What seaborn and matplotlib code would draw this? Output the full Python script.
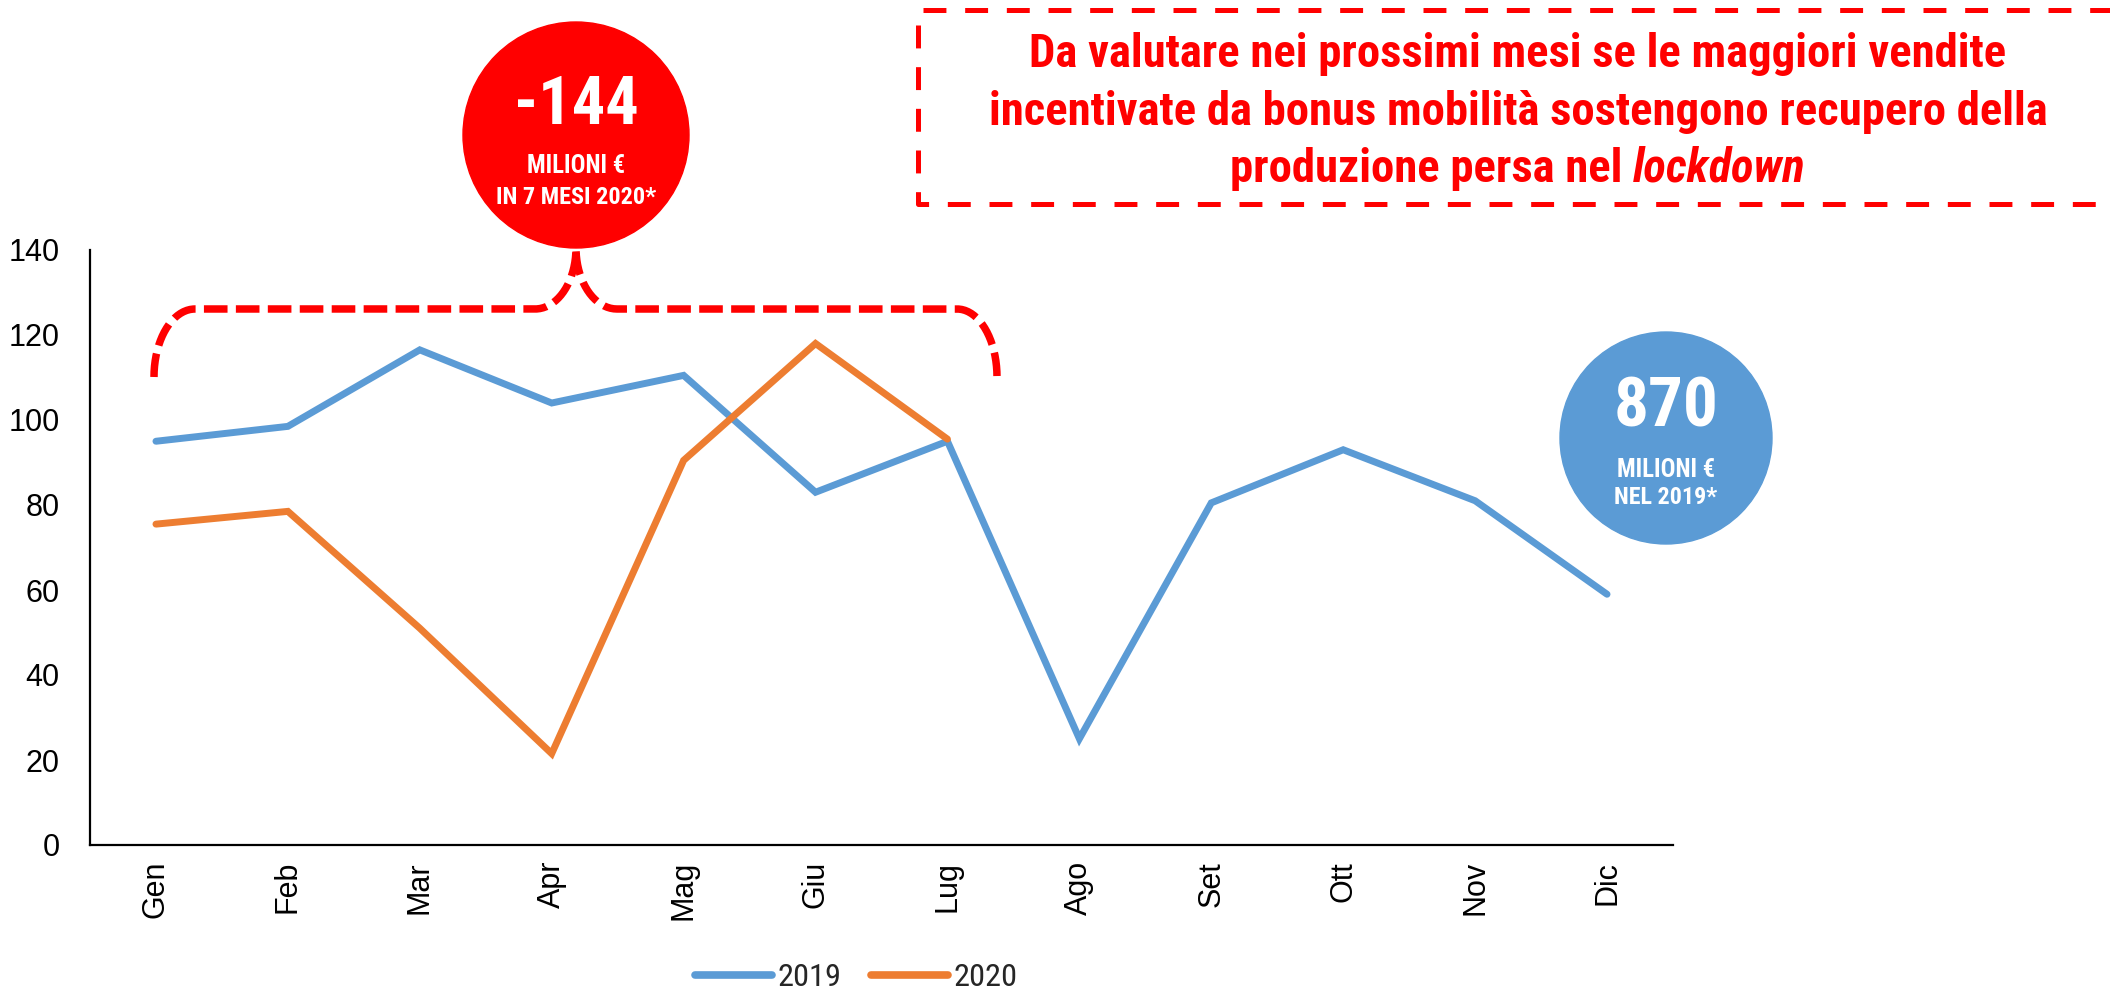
import os
import numpy as np
import pandas as pd
import matplotlib
matplotlib.use("Agg")
import matplotlib.pyplot as plt
import seaborn as sns
from matplotlib import font_manager
from matplotlib.font_manager import FontProperties
from matplotlib.patches import Circle
from matplotlib.lines import Line2D

# valori (produzione mensile)
mesi = ["Gen", "Feb", "Mar", "Apr", "Mag", "Giu", "Lug", "Ago", "Set", "Ott", "Nov", "Dic"]
valori_2019 = [95, 98.5, 116.5, 104, 110.5, 83, 95, 25, 80.5, 93, 81, 59]
valori_2020 = [75.5, 78.5, 51, 21.5, 90.5, 118, 95.5]
anni = ["2019", "2020"]
colori = ["#5B9BD5", "#ED7D31"]
tick_y = [0, 20, 40, 60, 80, 100, 120, 140]

bolla_2020 = ["-144", "MILIONI €", "IN 7 MESI 2020*"]
bolla_2019 = ["870", "MILIONI €", "NEL 2019*"]
nota = ["Da valutare nei prossimi mesi se le maggiori vendite",
        "incentivate da bonus mobilità sostengono recupero della",
        "produzione persa nel", "lockdown"]

ROSSO = "#FF0000"

# cerca un font stretto (tipo Arial Narrow) tra quelli installati
file_font = {os.path.basename(f.fname): f.fname for f in font_manager.fontManager.ttflist}
candidati = [
    ("LiberationSansNarrow-Bold.ttf", "LiberationSansNarrow-BoldItalic.ttf", "LiberationSansNarrow-Regular.ttf"),
    ("RobotoCondensed-Bold.ttf", "RobotoCondensed-BoldItalic.ttf", "RobotoCondensed-Regular.ttf"),
    ("NotoSans-CondensedBold.ttf", "NotoSans-CondensedBoldItalic.ttf", "NotoSans-Condensed.ttf"),
    ("DejaVuSansCondensed-Bold.ttf", "DejaVuSansCondensed-BoldOblique.ttf", "DejaVuSansCondensed.ttf"),
    ("OpenSans_Condensed-Bold.ttf", "OpenSans_Condensed-BoldItalic.ttf", "OpenSans_Condensed-Regular.ttf"),
]
fp_b, fp_bi, fp_r = None, None, None
for b, bi, rg in candidati:
    if b in file_font:
        fp_b = FontProperties(fname=file_font[b])
        fp_bi = FontProperties(fname=file_font[bi]) if bi in file_font else FontProperties(fname=file_font[b])
        fp_r = FontProperties(fname=file_font[rg]) if rg in file_font else FontProperties(family="Liberation Sans")
        break
if fp_b is None:
    fp_b = FontProperties(family="Liberation Sans", weight="bold")
    fp_bi = FontProperties(family="Liberation Sans", weight="bold", style="italic")
    fp_r = FontProperties(family="Liberation Sans")

sns.set_style("white")
plt.rcParams["font.family"] = ["Liberation Sans", "DejaVu Sans"]
plt.rcParams["lines.scale_dashes"] = False

df = pd.DataFrame({
    "pos": list(range(len(valori_2019))) + list(range(len(valori_2020))),
    "valore": valori_2019 + valori_2020,
    "anno": [anni[0]] * len(valori_2019) + [anni[1]] * len(valori_2020),
})

fig = plt.figure(figsize=(21.1, 9.91), dpi=100)
ax = fig.add_axes([90 / 2110, 146 / 991, 1583 / 2110, 595 / 991])

sns.lineplot(data=df, x="pos", y="valore", hue="anno", hue_order=anni,
             palette=dict(zip(anni, colori)), linewidth=5.0, legend=False, ax=ax)
for line in ax.lines:
    line.set_solid_capstyle("round")
    line.set_solid_joinstyle("miter")

ax.set_xlim(-0.5, len(mesi) - 0.5)
ax.set_ylim(0, 140)
ax.set_yticks(tick_y)
ax.set_xticks(range(len(mesi)))
ax.set_xticklabels(mesi, rotation=90)
ax.set_xticks(np.arange(-0.5, len(mesi), 1), minor=True)
ax.set_xlabel("")
ax.set_ylabel("")
ax.tick_params(axis="x", which="major", length=0, pad=11.5, labelsize=22, labelcolor="black")
ax.tick_params(axis="x", which="minor", length=8.7, width=1.6, color="black", direction="out")
ax.tick_params(axis="y", length=0, pad=22, labelsize=22, labelcolor="black")
for s in ["top", "right"]:
    ax.spines[s].set_visible(False)
for s in ["left", "bottom"]:
    ax.spines[s].set_color("black")
    ax.spines[s].set_linewidth(1.6)
ax.grid(False)

# strato per le annotazioni in pixel
ov = fig.add_axes([0, 0, 1, 1])
ov.set_xlim(0, 2110)
ov.set_ylim(991, 0)
ov.axis("off")
ov.patch.set_alpha(0)
r = fig.canvas.get_renderer()


def adatta(t, larghezza, base):
    # regola la dimensione del testo sulla larghezza voluta (in pixel)
    t.set_fontsize(base)
    w = t.get_window_extent(r).width
    t.set_fontsize(base * larghezza / w)
    return t


def scritta(x, y, s, fp, larghezza, base, **kw):
    t = ov.text(x, y, s, fontproperties=fp.copy(), **kw)
    return adatta(t, larghezza, base)


# parentesi tratteggiata
def quarto(cx, cy, rx, ry, t0, t1):
    t = np.radians(np.linspace(t0, t1, 40))
    return list(cx + rx * np.cos(t)), list(cy + ry * np.sin(t))


px, py = [], []
for seg in [(195, 377, 41, 68, 180, 270), (535, 248, 41, 61, 90, 0),
            (617, 248, 41, 61, 180, 90), (957, 377, 40, 68, 270, 360)]:
    a, b = quarto(*seg)
    px += a
    py += b
ov.plot(px, py, color=ROSSO, lw=5.4, dashes=(17, 6), dash_capstyle="butt", zorder=2)

# bolla rossa
ov.add_patch(Circle((576, 135), 113, color=ROSSO, zorder=3))
kw = dict(color="white", ha="center", va="center", zorder=4)
scritta(576, 106, bolla_2020[0], fp_b, 125, 52, **kw)
scritta(576, 166, bolla_2020[1], fp_b, 99, 18, **kw)
scritta(576, 197, bolla_2020[2], fp_b, 161, 18, **kw)

# bolla blu
ov.add_patch(Circle((1666, 438), 106, color=colori[0], zorder=3))
scritta(1666, 408, bolla_2019[0], fp_b, 105, 53, **kw)
scritta(1666, 470, bolla_2019[1], fp_b, 99, 18, **kw)
scritta(1666, 498, bolla_2019[2], fp_b, 103, 18, **kw)

# riquadro tratteggiato
ov.plot([918, 918, 2115], [25, 204, 204], color=ROSSO, lw=3.6,
        dashes=(16.5, 13.5), dash_capstyle="butt", zorder=2)
ov.plot([923, 2115], [10, 10], color=ROSSO, lw=3.6,
        dashes=(16.5, 13.5), dash_capstyle="butt", zorder=2)

cx = 1518
kw = dict(color=ROSSO, ha="center", va="baseline")
n1 = scritta(cx, 67, nota[0], fp_b, 982, 32, **kw)
dim = n1.get_fontsize()
n2 = ov.text(cx, 125, nota[1], fontproperties=fp_b.copy(), **kw)
n2.set_fontsize(dim)
t1 = ov.text(0, 182, nota[2], fontproperties=fp_b.copy(), color=ROSSO, ha="left", va="baseline")
t2 = ov.text(0, 182, nota[3], fontproperties=fp_bi.copy(), color=ROSSO, ha="left", va="baseline")
sp = ov.text(0, 0, "a a", fontproperties=fp_b.copy())
sp2 = ov.text(0, 0, "aa", fontproperties=fp_b.copy())
for t in (t1, t2, sp, sp2):
    t.set_fontsize(dim)
w1 = t1.get_window_extent(r).width
w2 = t2.get_window_extent(r).width
ws = sp.get_window_extent(r).width - sp2.get_window_extent(r).width
sp.remove()
sp2.remove()
x0 = cx - (w1 + ws + w2) / 2
t1.set_x(x0)
t2.set_x(x0 + w1 + ws)

# legenda in basso
prova = ov.text(0, 0, "2019", fontproperties=fp_r.copy())
adatta(prova, 64, 24)
dim_leg = prova.get_fontsize()
prova.remove()
px_leg = dim_leg * 100 / 72
maniglie = [Line2D([], [], color=c, lw=5.5, solid_capstyle="round") for c in colori]
prop_leg = fp_r.copy()
prop_leg.set_size(dim_leg)
fig.legend(maniglie, anni, loc="center", bbox_to_anchor=(856 / 2110, 1 - 978 / 991),
           ncol=2, frameon=False, handlelength=77 / px_leg, handletextpad=6 / px_leg,
           columnspacing=29 / px_leg, prop=prop_leg)

fig.savefig("out.png", dpi=100, facecolor="white")
